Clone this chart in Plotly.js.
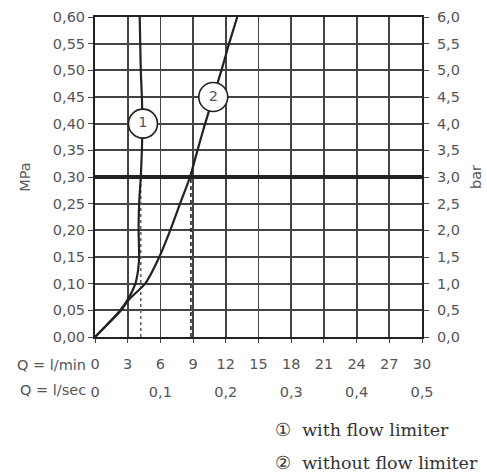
<!DOCTYPE html>
<html>
<head>
<meta charset="utf-8">
<script src="https://cdn.plot.ly/plotly-3.0.1.min.js"></script>
<style>html,body{margin:0;padding:0;background:#fff;}#chart{width:487px;height:475px;}</style>
</head>
<body>
<div id="chart"></div>
<script>
// ---- data ----
const pressureLevels = [0, 0.05, 0.07, 0.10, 0.125, 0.15, 0.20, 0.25, 0.30, 0.35, 0.40, 0.45, 0.50, 0.55, 0.60];
const flowWithLimiter = [0, 2.3, 3.0, 3.7, 3.95, 4.05, 4.0, 4.05, 4.2, 4.3, 4.35, 4.3, 4.2, 4.15, 4.1];
const pressureNoLimiter = [0, 0.05, 0.07, 0.10, 0.15, 0.20, 0.25, 0.30, 0.35, 0.40, 0.45, 0.50, 0.55, 0.60];
const flowNoLimiter = [0, 2.4, 3.1, 4.6, 5.9, 6.9, 7.8, 8.72, 9.4, 10.1, 10.85, 11.6, 12.3, 13.05];
const refPressure = 0.30;
const dashFlows = [4.2, 8.8];
const labelNames = ['1', '2'];
const labelFlow = [4.4, 10.85];
const labelPressure = [0.40, 0.45];
const lminTicks = [0, 3, 6, 9, 12, 15, 18, 21, 24, 27, 30];
const lsecTicks = [0, 0.1, 0.2, 0.3, 0.4, 0.5];
const lsecText = ['0', '0,1', '0,2', '0,3', '0,4', '0,5'];
const mpaTicks = [0, 0.05, 0.10, 0.15, 0.20, 0.25, 0.30, 0.35, 0.40, 0.45, 0.50, 0.55, 0.60];
const mpaText = ['0,00','0,05','0,10','0,15','0,20','0,25','0,30','0,35','0,40','0,45','0,50','0,55','0,60'];
const barTicks = [0, 0.5, 1, 1.5, 2, 2.5, 3, 3.5, 4, 4.5, 5, 5.5, 6];
const barText = ['0,0','0,5','1,0','1,5','2,0','2,5','3,0','3,5','4,0','4,5','5,0','5,5','6,0'];
const legendTexts = ['\u2460  with flow limiter', '\u2461  without flow limiter'];

const ink = '#222';
const grid = '#444';
const tickFont = {family: 'DejaVu Sans', size: 14.5, color: '#555'};
const serifFont = {family: 'DejaVu Serif', size: 17.5, color: '#333'};

const traces = [
  {x: [dashFlows[0], dashFlows[0]], y: [0, refPressure], mode: 'lines', line: {color: '#666', width: 1.6, dash: '3px,3px'}, hoverinfo: 'skip'},
  {x: [dashFlows[1], dashFlows[1]], y: [0, refPressure], mode: 'lines', line: {color: ink, width: 1.6, dash: '4px,3px'}, hoverinfo: 'skip'},
  {x: flowWithLimiter, y: pressureLevels, mode: 'lines', line: {color: ink, width: 2.2, shape: 'spline', smoothing: 0.6}},
  {x: flowNoLimiter, y: pressureNoLimiter, mode: 'lines', line: {color: ink, width: 2.2, shape: 'spline', smoothing: 0.6}},
  {x: labelFlow, y: labelPressure, mode: 'markers+text', text: labelNames, textposition: 'middle center',
   textfont: {family: 'DejaVu Sans', size: 14.5, color: '#555'},
   marker: {symbol: 'circle', size: 29, color: '#fff', line: {color: ink, width: 1.6}}},
  {x: [0, 0.5], y: [0, 6], xaxis: 'x2', yaxis: 'y2', mode: 'markers', marker: {opacity: 0}, hoverinfo: 'skip'}
];

const layout = {
  width: 487, height: 475,
  margin: {l: 95, r: 65, t: 17, b: 0},
  paper_bgcolor: '#fff', plot_bgcolor: '#fff',
  showlegend: false,
  font: tickFont,
  xaxis: {
    range: [0, 30], tickvals: lminTicks, ticktext: lminTicks.map(String),
    showgrid: true, gridcolor: grid, gridwidth: 1.8, zeroline: false,
    showline: true, linecolor: ink, linewidth: 2, mirror: true,
    ticks: 'outside', ticklen: 4, tickcolor: grid, ticklabelstandoff: 9,
    tickfont: tickFont, fixedrange: true
  },
  xaxis2: {
    overlaying: 'x', anchor: 'free', position: 0.205, side: 'bottom',
    range: [0, 0.5], tickvals: lsecTicks, ticktext: lsecText,
    showgrid: false, zeroline: false, showline: false, ticks: '',
    tickfont: tickFont, fixedrange: true
  },
  yaxis: {
    domain: [0.3013, 1], range: [0, 0.6], tickvals: mpaTicks, ticktext: mpaText,
    showgrid: true, gridcolor: grid, gridwidth: 1.8, zeroline: false,
    showline: true, linecolor: ink, linewidth: 2, mirror: true,
    ticks: 'outside', ticklen: 5, tickcolor: grid,
    tickfont: tickFont, fixedrange: true,
    title: {text: 'MPa', font: tickFont, standoff: 19}
  },
  yaxis2: {
    overlaying: 'y', side: 'right', anchor: 'x', range: [0, 6], tickvals: barTicks, ticktext: barText,
    showgrid: false, zeroline: false, showline: true, linecolor: ink, linewidth: 2,
    ticks: 'outside', ticklen: 5, tickcolor: grid, ticklabelstandoff: 5,
    tickfont: tickFont, fixedrange: true,
    title: {text: 'bar', font: tickFont, standoff: 12}
  },
  shapes: [
    {type: 'line', xref: 'x', yref: 'y', x0: 0, x1: 30, y0: refPressure, y1: refPressure, line: {color: ink, width: 4}}
  ],
  annotations: [
    {xref: 'paper', yref: 'paper', x: -0.022, y: 0.240, xanchor: 'right', yanchor: 'middle', text: 'Q = l/min', showarrow: false, font: tickFont},
    {xref: 'paper', yref: 'paper', x: -0.022, y: 0.1856, xanchor: 'right', yanchor: 'middle', text: 'Q = l/sec', showarrow: false, font: tickFont},
    {xref: 'paper', yref: 'paper', x: 0.545, y: 0.0983, xanchor: 'left', yanchor: 'middle', text: legendTexts[0], showarrow: false, font: serifFont},
    {xref: 'paper', yref: 'paper', x: 0.545, y: 0.0262, xanchor: 'left', yanchor: 'middle', text: legendTexts[1], showarrow: false, font: serifFont}
  ]
};

Plotly.newPlot('chart', traces, layout, {staticPlot: true, displayModeBar: false});
</script>
</body>
</html>
